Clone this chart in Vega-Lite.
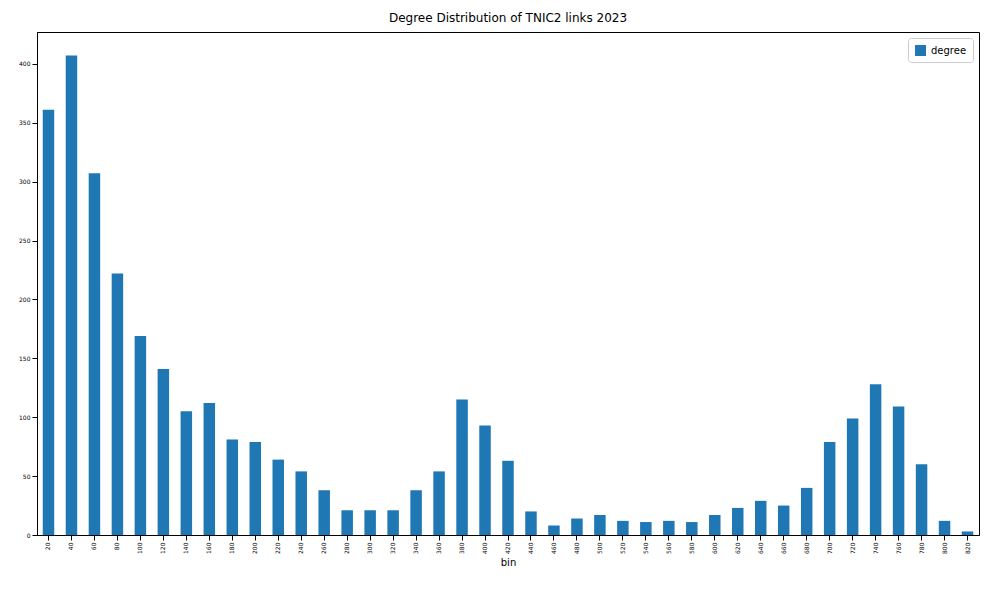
{
"$schema":"https://vega.github.io/schema/vega-lite/v6.json",
"autosize":"none","width":942,"height":503,
"padding":{"left":37,"top":32,"right":10,"bottom":55},
"background":"white",
"title":{"text":"Degree Distribution of TNIC2 links 2023","fontSize":12,"fontWeight":"normal","font":"DejaVu Sans","offset":7,"color":"black"},
"data":{"values":[
{"bin":20,"degree":361},{"bin":40,"degree":407},{"bin":60,"degree":307},{"bin":80,"degree":222},{"bin":100,"degree":169},{"bin":120,"degree":141},{"bin":140,"degree":105},{"bin":160,"degree":112},{"bin":180,"degree":81},{"bin":200,"degree":79},{"bin":220,"degree":64},{"bin":240,"degree":54},{"bin":260,"degree":38},{"bin":280,"degree":21},{"bin":300,"degree":21},{"bin":320,"degree":21},{"bin":340,"degree":38},{"bin":360,"degree":54},{"bin":380,"degree":115},{"bin":400,"degree":93},{"bin":420,"degree":63},{"bin":440,"degree":20},{"bin":460,"degree":8},{"bin":480,"degree":14},{"bin":500,"degree":17},{"bin":520,"degree":12},{"bin":540,"degree":11},{"bin":560,"degree":12},{"bin":580,"degree":11},{"bin":600,"degree":17},{"bin":620,"degree":23},{"bin":640,"degree":29},{"bin":660,"degree":25},{"bin":680,"degree":40},{"bin":700,"degree":79},{"bin":720,"degree":99},{"bin":740,"degree":128},{"bin":760,"degree":109},{"bin":780,"degree":60},{"bin":800,"degree":12},{"bin":820,"degree":3}
]},
"mark":{"type":"bar"},
"encoding":{
"x":{"field":"bin","type":"ordinal","sort":null,"scale":{"paddingInner":0.5,"paddingOuter":0.25},
"axis":{"title":"bin","titleFont":"DejaVu Sans","titleFontSize":10,"titleFontWeight":"normal","titleColor":"black","labelAngle":-90,"labelFontSize":6,"labelFont":"DejaVu Sans","labelColor":"black","domainColor":"black","tickColor":"black","titlePadding":4}},
"y":{"field":"degree","type":"quantitative","scale":{"domain":[0,427],"nice":false},
"axis":{"title":null,"values":[0,50,100,150,200,250,300,350,400],"labelFontSize":6,"labelFont":"DejaVu Sans","labelColor":"black","grid":false,"domainColor":"black","tickColor":"black"}},
"color":{"datum":"degree","type":"nominal","scale":{"range":["#1f77b4"]},
"legend":{"title":null,"orient":"top-right","symbolType":"square","symbolSize":120,"labelFontSize":10,"labelFont":"DejaVu Sans","strokeColor":"#cccccc","padding":6,"cornerRadius":3,"fillColor":"white","offset":6}}
},
"config":{"view":{"stroke":"black"}}
}
